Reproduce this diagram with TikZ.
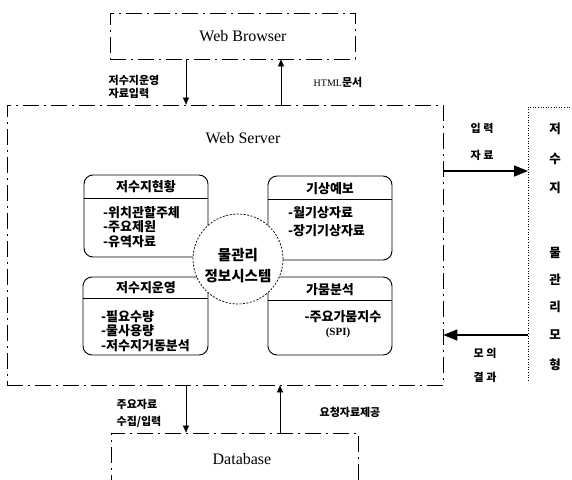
\documentclass[tikz,border=0pt]{standalone}
\usepackage{fontspec}
\setmainfont{Liberation Serif}
\newfontfamily\kr{Noto Sans CJK KR}
\usetikzlibrary{arrows.meta}
\begin{document}
\begin{tikzpicture}[x=1pt,y=-1pt,
  bigbox/.style={draw, line width=0.7pt, dash pattern=on 16pt off 5pt on 2pt off 5pt, inner sep=0pt},
  subbox/.style={draw, line width=0.9pt, rounded corners=9pt, inner sep=0pt},
  sep/.style={line width=0.9pt},
  title/.style={font=\fontsize{16}{18}\selectfont, inner sep=0pt},
  lbl/.style={font=\kr\bfseries\fontsize{11}{13}\selectfont, inner sep=0pt},
  hdr/.style={font=\kr\bfseries\fontsize{13}{14}\selectfont, inner sep=0pt},
  itm/.style={font=\kr\bfseries\fontsize{13}{14.5}\selectfont, inner sep=0pt, align=left, anchor=west},
  vch/.style={font=\kr\bfseries\fontsize{12.5}{14}\selectfont, inner sep=0pt},
  varrow/.style={line width=0.6pt, -{Triangle[length=7pt,width=6pt]}},
  harrow/.style={line width=1.5pt, -{Triangle[length=14pt,width=11pt]}}
]
\useasboundingbox (0,0) rectangle (572,479);
\clip (0,0) rectangle (572,479);

% big boxes
\node[bigbox, minimum width=245pt, minimum height=46pt] (browser) at (232.5,36) {};
\node[title] (browsertxt) at (243,36) {Web Browser};
\node[bigbox, minimum width=436pt, minimum height=280pt] (server) at (225,245) {};
\node[title] (servertxt) at (243,138) {Web Server};
\node[bigbox, minimum width=247pt, minimum height=80pt] (db) at (234.5,473) {};
\node[title] (dbtxt) at (242,459) {Database};

% model box (dotted)
\coordinate (mtl) at (528,107);
\coordinate (mtr) at (575,107);
\coordinate (mbl) at (528,382);
\draw[line width=0.6pt, dotted] (mtr) -- (mtl) -- (mbl);
\node[vch] (v1) at (555,129) {저};
\node[vch] (v2) at (555,159) {수};
\node[vch] (v3) at (555,188) {지};
\node[vch] (v4) at (555,253) {물};
\node[vch] (v5) at (555,280) {관};
\node[vch] (v6) at (555,307) {리};
\node[vch] (v7) at (555,335) {모};
\node[vch] (v8) at (555,365) {형};

% sub boxes
\node[subbox, minimum width=124pt, minimum height=82pt] (hyeon) at (146,216) {};
\node[hdr] (hyeonh) at (146,187) {저수지현황};
\draw[sep] (hyeon.west |- 0,198) -- (hyeon.east |- 0,198);
\node[itm] (hyeoni) at (103,227) {-위치관할주체\\-주요제원\\-유역자료};

\node[subbox, minimum width=125pt, minimum height=78pt] (unyeong) at (145.5,316) {};
\node[hdr] (unyeongh) at (146,288) {저수지운영};
\draw[sep] (unyeong.west |- 0,298) -- (unyeong.east |- 0,298);
\node[itm] (unyeongi) at (101,331) {-필요수량\\-물사용량\\-저수지거동분석};

\node[subbox, minimum width=124pt, minimum height=84pt] (gisang) at (330,218) {};
\node[hdr] (gisangh) at (330,189) {기상예보};
\draw[sep] (gisang.west |- 0,199) -- (gisang.east |- 0,199);
\node[itm, font=\kr\bfseries\fontsize{13}{18}\selectfont] (gisangi) at (288,222) {-월기상자료\\-장기기상자료};

\node[subbox, minimum width=124pt, minimum height=78pt] (gamum) at (330,316) {};
\node[hdr] (gamumh) at (330,290) {가뭄분석};
\draw[sep] (gamum.west |- 0,300) -- (gamum.east |- 0,300);
\node[font=\kr\bfseries\fontsize{13}{14}\selectfont, inner sep=0pt] (gamumi) at (343,317) {-주요가뭄지수};
\node[font=\bfseries\fontsize{11}{13}\selectfont, inner sep=0pt] (gamumspi) at (338,333) {(SPI)};

% central circle
\node[circle, draw, fill=white, line width=0.7pt, dash pattern=on 2pt off 1.5pt,
      minimum size=90pt, inner sep=0pt] (core) at (238,259) {};
\node[font=\kr\bfseries\fontsize{14.5}{21}\selectfont, align=center, inner sep=0pt] (coretxt) at (238,266) {물관리\\정보시스템};

% arrows browser <-> server
\draw[varrow] (browser.south -| 186,0) -- (server.north -| 186,0);
\draw[varrow] (server.north -| 281,0) -- (browser.south -| 281,0);
\node[lbl, align=left] (l1) at (134,87) {저수지운영\\자료입력};
\node[font=\fontsize{10}{12}\selectfont, inner sep=0pt] (l2) at (338,82) {HTML{\kr\bfseries\fontsize{11}{13}\selectfont 문서}};

% arrows server <-> database
\draw[varrow] (server.south -| 186,0) -- (db.north -| 186,0);
\draw[varrow] (db.north -| 280,0) -- (server.south -| 280,0);
\node[lbl, align=left, font=\kr\bfseries\fontsize{11}{17}\selectfont] (l3) at (139,413) {주요자료\\수집/입력};
\node[lbl] (l4) at (350,412) {요청자료제공};

% arrows server <-> model
\draw[harrow] (server.east |- 0,171) -- (mtl |- 0,171);
\draw[harrow] (mtl |- 0,335) -- (server.east |- 0,335);
\node[lbl] (l5) at (482,128) {입 력};
\node[lbl] (l6) at (482,155) {자 료};
\node[lbl] (l7) at (485,353) {모 의};
\node[lbl] (l8) at (485,377) {결 과};
\end{tikzpicture}
\end{document}
